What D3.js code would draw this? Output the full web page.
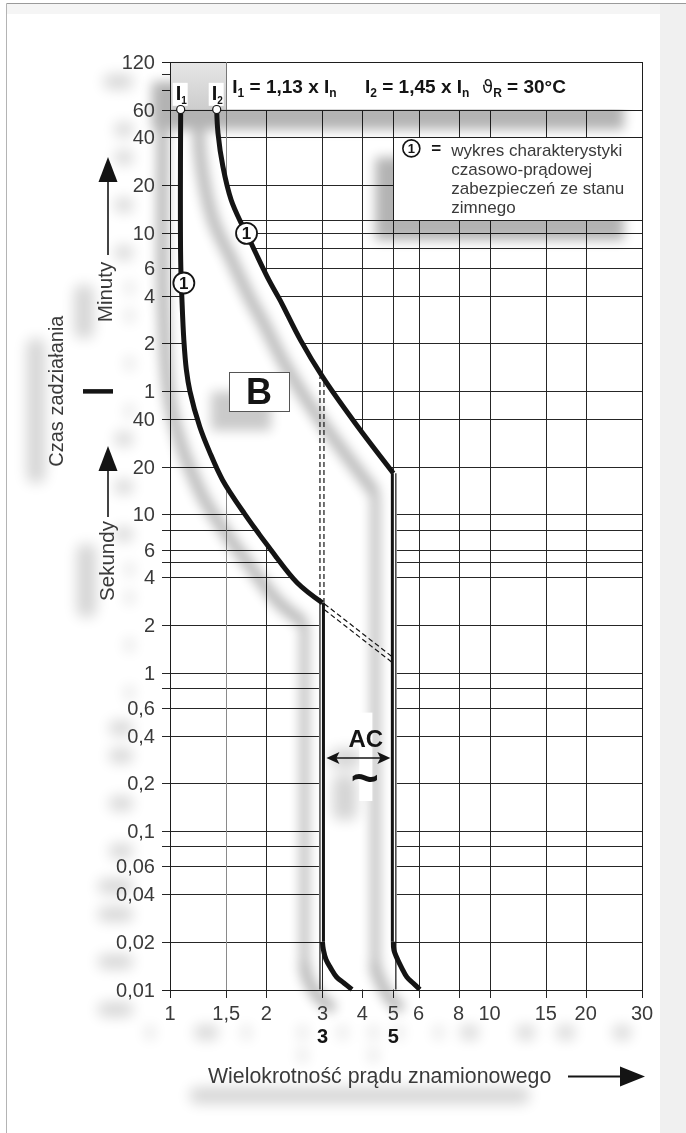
<!DOCTYPE html>
<html><head><meta charset="utf-8">
<script src="https://cdn.jsdelivr.net/npm/d3@7/dist/d3.min.js"></script>
<style>
html,body{margin:0;padding:0;background:#fff;}
svg{display:block;font-family:"Liberation Sans",Arial,Helvetica,sans-serif;}
</style></head><body>
<svg id="chart" width="686" height="1133"></svg>
<script>
// ---------------- data ----------------
const xTickValues = [1,1.5,2,3,4,5,6,8,10,15,20,30];
const xTickLabels = ["1","1,5","2","3","4","5","6","8","10","15","20","30"];
const xGridValues = [1.5,2,3,4,5,6,8,10,15,20];
const xBoldValues = [3,5];
const xBoldLabels = ["3","5"];
// seconds part of the time axis
const ySecTickValues = [0.01,0.02,0.04,0.06,0.1,0.2,0.4,0.6,1,2,4,6,10,20,40];
const ySecTickLabels = ["0,01","0,02","0,04","0,06","0,1","0,2","0,4","0,6","1","2","4","6","10","20","40"];
const ySecGridValues = [0.02,0.04,0.06,0.08,0.1,0.2,0.4,0.6,0.8,1,2,4,5,6,8,10,20,40];
// minutes part of the time axis
const yMinTickValues = [1,2,4,6,10,20,40,60,120];
const yMinTickLabels = ["1","2","4","6","10","20","40","60","120"];
const yMinGridValues = [1,2,4,6,8,10,12,20,40,60];
const yMinMinorTicks = [80,100];
// tripping curves: [multiple of In, time in seconds]
const curveI1 = [[1.08,3600],[1.08,404],[1.09,226],[1.105,126],[1.125,82],[1.154,60],[1.24,35.6],[1.33,24.8],[1.46,16.5],[1.71,10.1],[2.04,6.2],[2.5,3.7],[3,2.76]];
const curveI2 = [[1.40,3600],[1.413,2560],[1.464,1570],[1.554,966],[1.669,692],[1.736,595],[1.855,447],[2.038,302],[2.208,226],[2.561,126],[3.0,74],[3.8,37.6],[5,18.2]];
const tailI1 = [[3,0.02],[3.02,0.0178],[3.08,0.0154],[3.18,0.0137],[3.32,0.012],[3.5,0.011],[3.71,0.01]];
const tailI2 = [[5,0.02],[5.02,0.0178],[5.16,0.0154],[5.31,0.0137],[5.51,0.012],[5.76,0.011],[6.05,0.01]];
const dashedDiag = [[[3,2.72],[5,1.26]],[[3,2.5],[5,1.16]]];
const dashedVertTimes = [2.76,74];
const markerPoints = [[1.105,289],[1.736,595]];
const legendLines = ["wykres charakterystyki","czasowo-prądowej","zabezpieczeń ze stanu","zimnego"];

// ---------------- scales ----------------
const x = d3.scaleLog().domain([1,30]).range([170,642]);
const y = d3.scaleLog().domain([0.01,3600]).range([989.5,109.5]);
const X0 = x(1), X1 = x(30), YT = y(7200), YH = y(3600), YB = y(0.01);
const tickLeft = X0 - 8;
const cr = d3.line().x(d=>x(d[0])).y(d=>y(d[1])).curve(d3.curveCatmullRom.alpha(0.5));
const r5 = v => Math.round(v)+0.5;
const INK = "#141414", TXT = "#3a3a3a";

const svg = d3.select("#chart");
const defs = svg.append("defs");
defs.append("filter").attr("id","blur").attr("x","-30%").attr("y","-30%").attr("width","160%").attr("height","160%")
  .append("feGaussianBlur").attr("stdDeviation",6);
defs.append("filter").attr("id","blur2").attr("x","-50%").attr("y","-50%").attr("width","200%").attr("height","200%")
  .append("feGaussianBlur").attr("stdDeviation",7);
const grad = defs.append("linearGradient").attr("id","hdrGrey").attr("x1",0).attr("y1",0).attr("x2",0).attr("y2",1);
grad.append("stop").attr("offset","0%").attr("stop-color","#e6e6e6");
grad.append("stop").attr("offset","100%").attr("stop-color","#cdcdcd");

// ---------------- page ----------------
svg.append("rect").attr("width",686).attr("height",1133).attr("fill","#fff");
svg.append("rect").attr("x",7).attr("y",4).attr("width",679).attr("height",10).attr("fill","#f5f5f5");
svg.append("rect").attr("x",660).attr("y",4).attr("width",26).attr("height",1129).attr("fill","#f0f0f0");
svg.append("line").attr("x1",6.5).attr("x2",686).attr("y1",3.5).attr("y2",3.5).attr("stroke","#9a9a9a");
svg.append("line").attr("x1",6.5).attr("x2",6.5).attr("y1",3.5).attr("y2",1133).attr("stroke","#b4b4b4");

// ---------------- grid ----------------
const gGrid = svg.append("g").attr("shape-rendering","crispEdges");
const hVals = [...ySecGridValues, ...yMinGridValues.map(m=>m*60)];
gGrid.selectAll("line.h").data(hVals).join("line").attr("class","h")
  .attr("x1",tickLeft).attr("x2",X1).attr("y1",d=>r5(y(d))).attr("y2",d=>r5(y(d)))
  .attr("stroke","#262626").attr("stroke-width",1);
gGrid.selectAll("line.m").data(yMinMinorTicks).join("line").attr("class","m")
  .attr("x1",tickLeft).attr("x2",X0).attr("y1",d=>r5(y(d*60))).attr("y2",d=>r5(y(d*60)))
  .attr("stroke","#262626");
gGrid.selectAll("line.v").data(xGridValues).join("line").attr("class","v")
  .attr("x1",d=>r5(x(d))).attr("x2",d=>r5(x(d))).attr("y1",YH).attr("y2",YB)
  .attr("stroke",d=>d===1.5?"#8a8a8a":"#262626").attr("stroke-width",1);
gGrid.selectAll("line.t").data(xTickValues).join("line").attr("class","t")
  .attr("x1",d=>r5(x(d))).attr("x2",d=>r5(x(d))).attr("y1",YB).attr("y2",YB+8)
  .attr("stroke","#262626");

// ---------------- white band between curves ----------------
const rev = a => a.slice().reverse();
const last1 = curveI1[curveI1.length-1], last2 = curveI2[curveI2.length-1];
const bandD = cr(curveI2)
  + `L${x(5)+3.5},${y(last2[1])}L${x(5)+3.5},${y(0.02)}`
  + cr(tailI2).replace(/^M/,"L")
  + cr(rev(tailI1)).replace(/^M/,"L")
  + `L${x(3)-3.5},${y(0.02)}L${x(3)-3.5},${y(last1[1])}`
  + cr(rev(curveI1)).replace(/^M/,"L") + "Z";
svg.append("path").attr("d",bandD).attr("fill","#fff");

// ---------------- shadows ----------------
const gSh = svg.append("g").attr("transform","translate(-18,20)").attr("filter","url(#blur)").attr("opacity",0.3);
const gShT = svg.append("g").attr("transform","translate(-20,20)").attr("filter","url(#blur2)").attr("opacity",0.17);
gSh.append("rect").attr("x",X0).attr("y",YT).attr("width",X1-X0).attr("height",YH-YT).attr("fill","#000");
gSh.append("rect").attr("x",x(5)).attr("y",y(2400)).attr("width",X1-x(5)).attr("height",y(720)-y(2400)).attr("fill","#000");
gSh.append("rect").attr("x",x(1.9)-30).attr("y",y(60)-19.5).attr("width",60).attr("height",39).attr("fill","#000").attr("opacity",0.7);
[curveI1,curveI2,tailI1,tailI2].forEach(c=>gSh.append("path").attr("d",cr(c)).attr("fill","none").attr("stroke","#000").attr("stroke-width",11));
gSh.append("line").attr("x1",x(3)).attr("x2",x(3)).attr("y1",y(2.76)).attr("y2",y(0.02)).attr("stroke","#000").attr("stroke-width",8);
gSh.append("line").attr("x1",x(5)).attr("x2",x(5)).attr("y1",y(18.2)).attr("y2",y(0.02)).attr("stroke","#000").attr("stroke-width",8);

// white strip behind the AC symbol
svg.append("rect").attr("x",x(4)-3).attr("y",y(0.56)).attr("width",13).attr("height",y(0.155)-y(0.56)).attr("fill","#fff");

// ---------------- header box ----------------
svg.append("rect").attr("x",X0).attr("y",YT).attr("width",x(1.5)-X0).attr("height",YH-YT).attr("fill","url(#hdrGrey)");
svg.append("rect").attr("x",x(1.5)).attr("y",YT).attr("width",X1-x(1.5)).attr("height",YH-YT).attr("fill","#fff");
const gFrame = svg.append("g").attr("shape-rendering","crispEdges").attr("stroke","#1e1e1e");
gFrame.append("line").attr("x1",X0).attr("x2",X1).attr("y1",r5(YT)).attr("y2",r5(YT));
gFrame.append("line").attr("x1",tickLeft).attr("x2",X0).attr("y1",r5(YT)).attr("y2",r5(YT));
gFrame.append("line").attr("x1",r5(x(1.5))).attr("x2",r5(x(1.5))).attr("y1",YT).attr("y2",YH).attr("stroke","#777");
gFrame.append("line").attr("x1",r5(X0)).attr("x2",r5(X0)).attr("y1",YT).attr("y2",YB+8).attr("stroke-width",1.6);
gFrame.append("line").attr("x1",r5(X1)).attr("x2",r5(X1)).attr("y1",YT).attr("y2",YB+8).attr("stroke-width",1.3);
gFrame.append("line").attr("x1",tickLeft).attr("x2",X1).attr("y1",r5(YB)).attr("y2",r5(YB)).attr("stroke-width",1.6);
gFrame.append("line").attr("x1",tickLeft).attr("x2",X1).attr("y1",r5(YH)).attr("y2",r5(YH)).attr("stroke-width",1.3);

// header texts
function subText(xp, main, sub, rest, sub2){
  const t = svg.append("text").attr("x",xp).attr("y",YT+31).attr("font-size",19).attr("font-weight","bold").attr("fill",INK);
  t.append("tspan").text(main);
  t.append("tspan").attr("font-size",12).attr("dy",4).text(sub);
  t.append("tspan").attr("dy",-4).text(rest);
  if(sub2){ t.append("tspan").attr("font-size",12).attr("dy",4).text(sub2); }
  return t;
}
subText(x(1.5)+6,"I","1"," = 1,13 x I","n");
subText(365,"I","2"," = 1,45 x I","n");
const th = svg.append("text").attr("x",482).attr("y",YT+31).attr("font-size",19).attr("fill",INK);
th.append("tspan").attr("font-family","DejaVu Sans").attr("font-size",18).text("ϑ");
th.append("tspan").attr("font-size",12).attr("font-weight","bold").attr("dy",4).text("R");
th.append("tspan").attr("dy",-4).attr("font-weight","bold").text(" = 30°C");
// I1 / I2 tags
[[curveI1[0][0],"1"],[curveI2[0][0],"2"]].forEach(([v,s])=>{
  svg.append("rect").attr("x",x(v)-8).attr("y",YT+21).attr("width",15).attr("height",23).attr("fill","#fff");
  const t = svg.append("text").attr("x",x(v)-5).attr("y",YT+38).attr("font-size",20).attr("font-weight","bold").attr("fill",INK);
  t.append("tspan").text("I");
  t.append("tspan").attr("font-size",10).attr("dy",4).text(s);
});

// ---------------- legend box ----------------
const lgX = x(5), lgY = y(2400);
svg.append("rect").attr("x",r5(lgX)).attr("y",r5(lgY)).attr("width",X1-lgX).attr("height",y(720)-lgY)
  .attr("fill","#fff").attr("stroke","#1e1e1e").attr("shape-rendering","crispEdges");
svg.append("circle").attr("cx",lgX+18).attr("cy",lgY+11).attr("r",8.5).attr("fill","#fff").attr("stroke",INK).attr("stroke-width",1.6);
svg.append("text").attr("x",lgX+18).attr("y",lgY+16).attr("text-anchor","middle").attr("font-size",13).attr("font-weight","bold").attr("fill",INK).text("1");
svg.append("text").attr("x",lgX+38).attr("y",lgY+17).attr("font-size",17).attr("font-weight","bold").attr("fill",INK).text("=");
svg.append("g").selectAll("text").data(legendLines).join("text")
  .attr("x",lgX+58).attr("y",(d,i)=>lgY+19+i*19).attr("font-size",17).attr("fill",TXT).text(d=>d);

// ---------------- B box ----------------
svg.append("rect").attr("x",r5(x(1.9)-30)).attr("y",r5(y(60)-19.5)).attr("width",60).attr("height",39)
  .attr("fill","#fff").attr("stroke","#555").attr("shape-rendering","crispEdges");
svg.append("text").attr("x",x(1.9)).attr("y",y(60)+13).attr("text-anchor","middle").attr("font-size",36).attr("font-weight","bold").attr("fill",INK).text("B");

// ---------------- curves ----------------
const gC = svg.append("g").attr("fill","none").attr("stroke",INK);
gC.append("path").attr("d",cr(curveI1)).attr("stroke-width",5);
gC.append("path").attr("d",cr(curveI2)).attr("stroke-width",5);
gC.append("path").attr("d",cr(tailI1)).attr("stroke-width",5);
gC.append("path").attr("d",cr(tailI2)).attr("stroke-width",5);
// double boundaries at 3 and 5
gC.append("line").attr("x1",x(3)+1).attr("x2",x(3)+1).attr("y1",y(last1[1])).attr("y2",y(0.02)).attr("stroke-width",3);
gC.append("line").attr("x1",x(3)-2.5).attr("x2",x(3)-2.5).attr("y1",y(last1[1])).attr("y2",YB).attr("stroke-width",1.2);
gC.append("line").attr("x1",x(5)-1).attr("x2",x(5)-1).attr("y1",y(last2[1])).attr("y2",y(0.02)).attr("stroke-width",3);
gC.append("line").attr("x1",x(5)+2.5).attr("x2",x(5)+2.5).attr("y1",y(last2[1])).attr("y2",YB).attr("stroke-width",1.2);
// dashed
[-2.5,1.5].forEach(o=>gC.append("line").attr("x1",x(3)+o).attr("x2",x(3)+o)
  .attr("y1",y(dashedVertTimes[0])).attr("y2",y(dashedVertTimes[1])).attr("stroke-width",1.2).attr("stroke-dasharray","5,3"));
dashedDiag.forEach(s=>gC.append("line").attr("x1",x(s[0][0])+2).attr("y1",y(s[0][1])).attr("x2",x(s[1][0])-1).attr("y2",y(s[1][1]))
  .attr("stroke-width",1.2).attr("stroke-dasharray","5,3"));
// start dots
[curveI1[0],curveI2[0]].forEach(p=>svg.append("circle").attr("cx",x(p[0])).attr("cy",y(p[1])).attr("r",4)
  .attr("fill","#fff").attr("stroke",INK).attr("stroke-width",1.2));
// circled 1 markers
markerPoints.forEach(p=>{
  svg.append("circle").attr("cx",x(p[0])).attr("cy",y(p[1])).attr("r",10.5).attr("fill","#fff").attr("stroke",INK).attr("stroke-width",1.8);
  svg.append("text").attr("x",x(p[0])).attr("y",y(p[1])+6).attr("text-anchor","middle").attr("font-size",17).attr("font-weight","bold").attr("fill",INK).text("1");
});

// ---------------- AC annotation ----------------
const acX = x(4.1);
const acText = svg.append("text").attr("x",acX).attr("y",y(0.34)).attr("text-anchor","middle").attr("font-size",24).attr("font-weight","bold").attr("fill",INK).text("AC");
const ay = y(0.29), ax1 = x(3)+4, ax2 = x(5)-3;
svg.append("line").attr("x1",ax1+8).attr("x2",ax2-8).attr("y1",ay).attr("y2",ay).attr("stroke",INK).attr("stroke-width",1.5);
svg.append("path").attr("d",`M${ax1},${ay}L${ax1+13},${ay-6}L${ax1+10},${ay}L${ax1+13},${ay+6}Z`).attr("fill",INK);
svg.append("path").attr("d",`M${ax2},${ay}L${ax2-13},${ay-6}L${ax2-10},${ay}L${ax2-13},${ay+6}Z`).attr("fill",INK);
const tilde = svg.append("text").attr("x",acX-1).attr("y",y(0.21)+14).attr("text-anchor","middle").attr("font-size",48).attr("font-weight","bold").attr("fill",INK).text("~");

// ---------------- labels ----------------
const gL = svg.append("g");
gL.append("g").selectAll("text").data(ySecTickValues).join("text")
  .attr("x",155).attr("y",d=>y(d)).attr("dy","0.35em").attr("text-anchor","end")
  .attr("font-size",20).attr("fill",TXT).text((d,i)=>ySecTickLabels[i]);
gL.append("g").selectAll("text").data(yMinTickValues).join("text")
  .attr("x",155).attr("y",d=>y(d*60)).attr("dy","0.35em").attr("text-anchor","end")
  .attr("font-size",20).attr("fill",TXT).text((d,i)=>yMinTickLabels[i]);
gL.append("g").selectAll("text").data(xTickValues).join("text")
  .attr("x",d=>x(d)).attr("y",YB+30).attr("text-anchor","middle")
  .attr("font-size",20).attr("fill",TXT).text((d,i)=>xTickLabels[i]);
gL.append("g").selectAll("text").data(xBoldValues).join("text")
  .attr("x",d=>x(d)).attr("y",YB+53).attr("text-anchor","middle")
  .attr("font-size",20).attr("font-weight","bold").attr("fill",INK).text((d,i)=>xBoldLabels[i]);
gL.append("text").attr("x",208).attr("y",YB+93).attr("font-size",21.3).attr("fill",TXT)
  .text("Wielokrotność prądu znamionowego");
gL.append("text").attr("transform",`translate(63,${y(60)}) rotate(-90)`).attr("text-anchor","middle")
  .attr("font-size",20).attr("fill",TXT).text("Czas zadziałania");
gL.append("text").attr("transform",`translate(111.5,292) rotate(-90)`).attr("text-anchor","middle")
  .attr("font-size",20.5).attr("fill",TXT).text("Minuty");
gL.append("text").attr("transform",`translate(114,561) rotate(-90)`).attr("text-anchor","middle")
  .attr("font-size",20.5).attr("fill",TXT).text("Sekundy");

// soft shadow blobs behind texts (boxes taken from the drawn texts)
const blobTargets = [...gL.selectAll("text").nodes(), acText.node(), tilde.node()];
blobTargets.forEach(n=>{
  const b = n.getBoundingClientRect();
  gShT.append("rect").attr("x",b.x+2).attr("y",b.y+4).attr("width",Math.max(4,b.width-4)).attr("height",Math.max(4,b.height-8))
    .attr("rx",6).attr("fill","#000");
});

// side arrows and bar
svg.append("rect").attr("x",83).attr("y",y(60)-2).attr("width",30).attr("height",4.5).attr("fill",INK);
svg.append("line").attr("x1",108).attr("x2",108).attr("y1",180).attr("y2",255).attr("stroke",INK).attr("stroke-width",1.6);
svg.append("path").attr("d","M108,157L117.5,182L98.5,182Z").attr("fill",INK);
svg.append("line").attr("x1",108).attr("x2",108).attr("y1",468).attr("y2",517).attr("stroke",INK).attr("stroke-width",1.6);
svg.append("path").attr("d","M108,446L117.5,471L98.5,471Z").attr("fill",INK);
// x-title arrow
svg.append("line").attr("x1",568).attr("x2",625).attr("y1",YB+87).attr("y2",YB+87).attr("stroke",INK).attr("stroke-width",2);
svg.append("path").attr("d",`M645,${YB+87}L620,${YB+77}L620,${YB+97}Z`).attr("fill",INK);
</script></body></html>
